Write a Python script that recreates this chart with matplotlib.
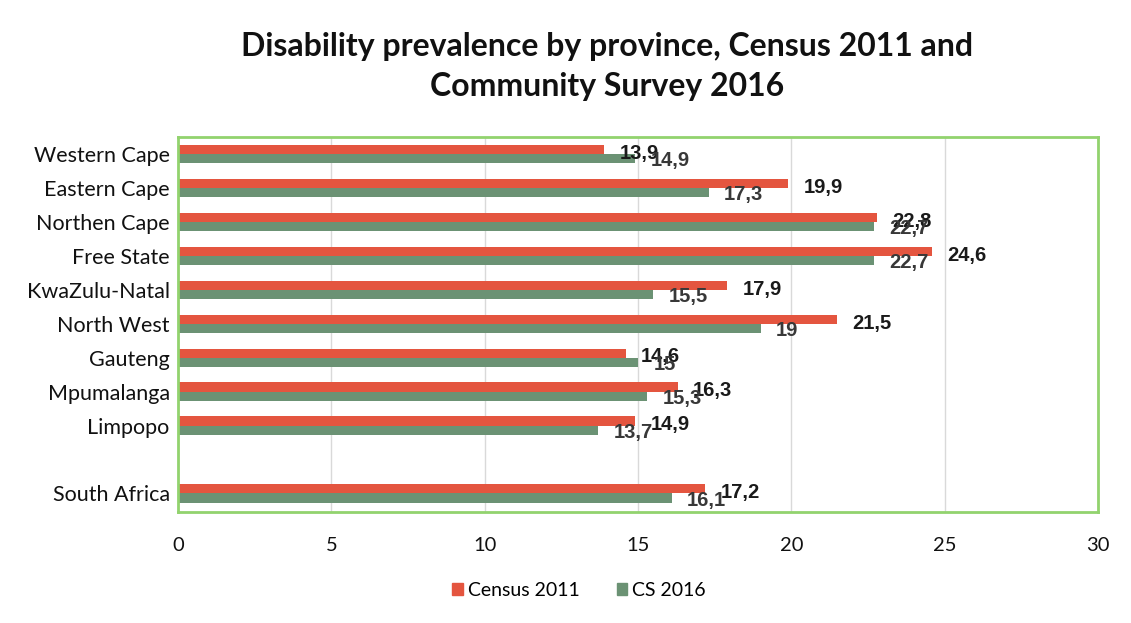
import matplotlib.pyplot as plt
import numpy as np

# data
provinces = ['Western Cape', 'Eastern Cape', 'Northen Cape', 'Free State',
             'KwaZulu-Natal', 'North West', 'Gauteng', 'Mpumalanga', 'Limpopo',
             '', 'South Africa']
census_2011 = [13.9, 19.9, 22.8, 24.6, 17.9, 21.5, 14.6, 16.3, 14.9, None, 17.2]
cs_2016 = [14.9, 17.3, 22.7, 22.7, 15.5, 19.0, 15.0, 15.3, 13.7, None, 16.1]

red = '#E4553F'
green = '#6B9274'
border = '#92D36E'


def fmt(v):
    if float(v).is_integer():
        return str(int(v))
    return f'{v:.1f}'.replace('.', ',')


fig = plt.figure(figsize=(11.31, 6.23), dpi=100)
ax = fig.add_axes([0.1574, 0.178, 0.8134, 0.602])

pos = np.arange(len(provinces))
h = 0.27
for i, (c, s) in enumerate(zip(census_2011, cs_2016)):
    if c is None:
        continue
    ax.barh(i - h / 2, c, height=h, color=red, zorder=2)
    ax.barh(i + h / 2, s, height=h, color=green, zorder=2)
    ax.text(c + 0.5, i - 0.02, fmt(c), fontsize=14.5, fontweight='bold',
            family='Liberation Sans', color='#1a1a1a', va='center', zorder=3)
    ax.text(s + 0.5, i + 0.2, fmt(s), fontsize=14.5, fontweight='bold',
            family='Liberation Sans', color='#383838', va='center', zorder=3)

ax.set_xlim(0, 30)
ax.set_ylim(len(provinces) - 0.45, -0.5)
ax.set_xticks(range(0, 31, 5))
ax.set_yticks(pos)
ax.set_yticklabels(provinces, family='Lato', fontsize=15.5)
for lbl in ax.get_xticklabels():
    lbl.set_family('Lato')
    lbl.set_fontsize(14.5)
ax.tick_params(axis='both', length=0, colors='#111111')
ax.tick_params(axis='y', pad=6)
ax.tick_params(axis='x', pad=18)
ax.grid(axis='x', color='#d9d9d9', linewidth=1, zorder=0)

for sp in ax.spines.values():
    sp.set_color(border)
    sp.set_linewidth(2)

fig.text(0.537, 0.893, 'Disability prevalence by province, Census 2011 and\nCommunity Survey 2016',
         ha='center', va='center', family='Lato', fontweight='bold', fontsize=23,
         linespacing=1.45, color='#111111')

handles = [plt.Rectangle((0, 0), 1, 1, color=red), plt.Rectangle((0, 0), 1, 1, color=green)]
fig.legend(handles, ['Census 2011', 'CS 2016'], loc='center', bbox_to_anchor=(0.512, 0.052),
           ncol=2, frameon=False, handlelength=0.55, handleheight=0.55, handletextpad=0.25,
           columnspacing=1.9, prop={'family': 'Lato', 'size': 14})

fig.savefig('out.png', dpi=100)
